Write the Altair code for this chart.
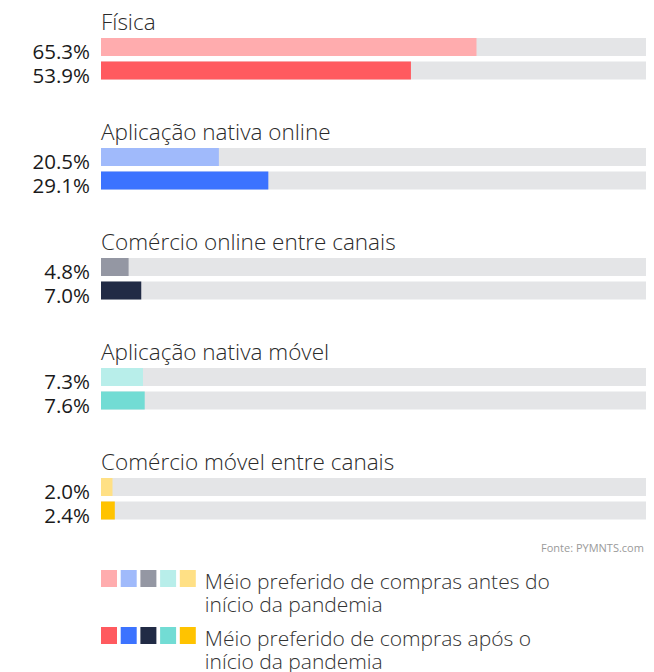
import altair as alt
import pandas as pd

categories = ["Física", "Aplicação nativa online", "Comércio online entre canais",
              "Aplicação nativa móvel", "Comércio móvel entre canais"]
antes = [65.3, 20.5, 4.8, 7.3, 2.0]
apos = [53.9, 29.1, 7.0, 7.6, 2.4]
colors_antes = ["#FFACAE", "#A0BAFB", "#9497A3", "#B8EEEA", "#FFE085"]
colors_apos = ["#FF5A5F", "#3C73FF", "#212B45", "#72DCD4", "#FFC300"]
series = ["antes", "apos"]
legend_labels = ["Méio preferido de compras antes do\ninício da pandemia",
                 "Méio preferido de compras após o\ninício da pandemia"]
source = "Fonte: PYMNTS.com"

rows = []
for i, c in enumerate(categories):
    rows.append({"cat": c, "series": "antes", "val": antes[i], "key": f"antes{i}",
                 "label": f"{antes[i]:.1f}%"})
    rows.append({"cat": c, "series": "apos", "val": apos[i], "key": f"apos{i}",
                 "label": f"{apos[i]:.1f}%"})
df = pd.DataFrame(rows)
keys = [f"antes{i}" for i in range(5)] + [f"apos{i}" for i in range(5)]
color_scale = alt.Scale(domain=keys, range=colors_antes + colors_apos)

FONT = "Open Sans"
W = 545
H = 664
BAND = 110
PX_PER_PCT = 5.75
xs = alt.Scale(domain=[0, W / PX_PER_PCT])
ys = alt.Scale(domain=categories, paddingInner=0, paddingOuter=0, range=[0, 5 * BAND])
step, bw = 23.5, 18
pi = (step - bw) / step
off0 = 30
offs = alt.Scale(domain=series, paddingInner=pi, paddingOuter=0,
                 range=[off0, off0 + step * (2 - pi)])

Y = alt.Y("cat:N", scale=ys, axis=None, sort=categories)
YO = alt.YOffset("series:N", scale=offs, sort=series)

base = alt.Chart(df)
track = base.mark_bar(color="#E4E5E7", clip=True).encode(
    x=alt.X(datum=100, type="quantitative", scale=xs, axis=None), y=Y, yOffset=YO)
bars = base.mark_bar().encode(
    x=alt.X("val:Q", scale=xs, axis=None), y=Y, yOffset=YO,
    color=alt.Color("key:N", scale=color_scale, legend=None))
labels = base.mark_text(align="right", baseline="alphabetic", dx=-11, dy=12,
                        fontSize=20.5, font=FONT, color="#1a1a1a").encode(
    x=alt.X(datum=0, type="quantitative", scale=xs, axis=None), y=Y, yOffset=YO,
    text="label:N")
titles = alt.Chart(pd.DataFrame({"cat": categories})).mark_text(
    align="left", baseline="alphabetic", dy=-33, fontSize=22.5, font=FONT,
    fontWeight=300, color="#2a2a2a").encode(
    x=alt.X(datum=0, type="quantitative", scale=xs, axis=None), y=Y, text="cat:N")
src = alt.Chart(pd.DataFrame({"t": [source]})).mark_text(
    align="left", baseline="alphabetic", fontSize=11, font=FONT,
    color="#9a9a9a").encode(x=alt.value(440), y=alt.value(544), text="t:N")

top = alt.layer(track, bars, labels, titles, src)

sw = []
for s in series:
    for i in range(5):
        sw.append({"series": s, "idx": i, "key": f"{s}{i}"})
swdf = pd.DataFrame(sw)
lstep, lbw = 19.7, 16
LW = lstep * (5 - (lstep - lbw) / lstep)
lgx = alt.Scale(domain=list(range(5)), paddingInner=(lstep - lbw) / lstep,
                paddingOuter=0, range=[0, LW])
rstep, rbw = 57, 17
LH = rstep * (2 - (rstep - rbw) / rstep)
ly0 = 562
lgy = alt.Scale(domain=series, paddingInner=(rstep - rbw) / rstep, paddingOuter=0,
                range=[ly0, ly0 + LH])
LY = alt.Y("series:N", scale=lgy, axis=None, sort=series)
squares = alt.Chart(swdf).mark_rect().encode(
    x=alt.X("idx:O", scale=lgx, axis=None), y=LY,
    color=alt.Color("key:N", scale=color_scale, legend=None))
ltext = alt.Chart(pd.DataFrame({"series": series, "t": legend_labels})).mark_text(
    align="left", baseline="alphabetic", dy=10, fontSize=21, font=FONT,
    fontWeight=300, lineBreak="\n", lineHeight=23, color="#333333").encode(
    x=alt.value(LW + 9), y=LY, text="t:N")
legend = alt.layer(squares, ltext)

chart = alt.layer(top, legend).resolve_scale(x="independent", y="independent").properties(
    width=W, height=H,
    autosize=alt.AutoSizeParams(type="none"),
    padding={"left": 93, "top": 0, "right": 0, "bottom": 0},
).configure_view(stroke=None)

chart.save("out.html", embed_options={"renderer": "svg", "actions": False})
